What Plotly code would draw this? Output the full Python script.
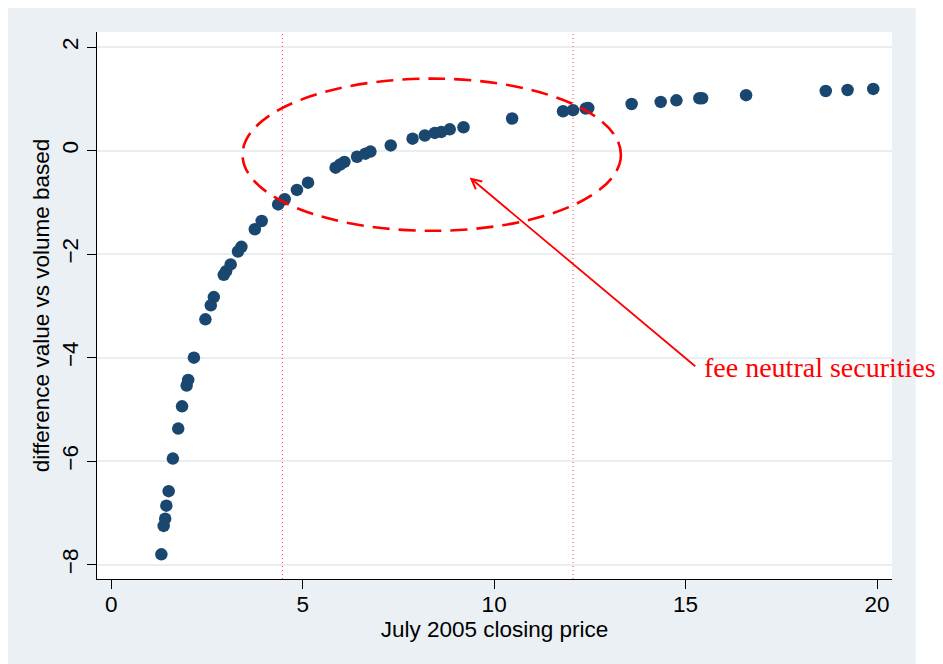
import plotly.graph_objects as go

# Data
price = [1.31, 1.37, 1.41, 1.44, 1.50, 1.61, 1.75, 1.85, 1.97, 2.01, 2.16,
         2.46, 2.60, 2.68, 2.94, 3.00, 3.12, 3.31, 3.40, 3.75, 3.93,
         4.36, 4.53, 4.85, 5.14, 5.86, 5.98, 6.09, 6.42, 6.64, 6.77,
         7.30, 7.87, 8.19, 8.45, 8.62, 8.84, 9.20, 10.47, 11.80, 12.06,
         12.39, 12.46, 13.59, 14.35, 14.76, 15.36, 15.43, 16.58, 18.66,
         19.23, 19.90]
diff = [-7.80, -7.25, -7.11, -6.86, -6.58, -5.95, -5.37, -4.94, -4.54, -4.43, -4.00,
        -3.26, -2.99, -2.83, -2.40, -2.33, -2.20, -1.95, -1.86, -1.52, -1.36,
        -1.04, -0.94, -0.76, -0.62, -0.33, -0.27, -0.22, -0.12, -0.06, -0.02,
        0.10, 0.23, 0.29, 0.34, 0.36, 0.41, 0.45, 0.62, 0.76, 0.78,
        0.81, 0.82, 0.90, 0.94, 0.97, 1.01, 1.01, 1.07, 1.15,
        1.17, 1.19]

cutoffs = [4.47, 12.06]
ellipse_x = [3.43, 13.31]
ellipse_y = [-1.55, 1.39]
arrow_head = (9.36, -0.52)
arrow_tail = (15.29, -4.19)
note_text = "fee neutral securities"

x_ticks = [0, 5, 10, 15, 20]
y_ticks = [-8, -6, -4, -2, 0, 2]
y_ticktext = ["\u22128", "\u22126", "\u22124", "\u22122", "0", "2"]

NAVY = "#1a476f"
BG = "#eaf0f3"
GRID = "#e8eef1"
FS = 22.5

fig = go.Figure()
fig.add_trace(go.Scatter(
    x=price, y=diff, mode="markers",
    marker=dict(size=12.5, color=NAVY, line=dict(width=0)),
    showlegend=False, hoverinfo="skip"))

# white strip on the right of the gray outer panel
fig.add_shape(type="rect", xref="paper", yref="paper",
              x0=1.0298, x1=1.3, y0=-0.4, y1=1.2,
              fillcolor="white", line=dict(width=0), layer="below")

for c in cutoffs:
    fig.add_shape(type="line", xref="x", yref="paper", x0=c, x1=c, y0=0, y1=1,
                  line=dict(color="rgba(255,0,0,0.75)", width=1, dash="1px,3px"))

fig.add_shape(type="circle", xref="x", yref="y",
              x0=ellipse_x[0], x1=ellipse_x[1], y0=ellipse_y[0], y1=ellipse_y[1],
              line=dict(color="#ff0000", width=2.6, dash="17px,9px"))

fig.add_annotation(x=arrow_head[0], y=arrow_head[1], ax=arrow_tail[0], ay=arrow_tail[1],
                   xref="x", yref="y", axref="x", ayref="y", text="",
                   showarrow=True, arrowhead=5, arrowsize=1.1, arrowwidth=1.8,
                   arrowcolor="#ff0000", standoff=0, startstandoff=0)
fig.add_annotation(x=arrow_tail[0], y=arrow_tail[1], xref="x", yref="y",
                   text=note_text, showarrow=False, xanchor="left", yanchor="middle",
                   xshift=5, yshift=0,
                   font=dict(family="Liberation Serif, serif", size=28, color="#ff0000"))

fig.update_xaxes(range=[-0.371, 20.39], tickvals=x_ticks, showgrid=False, zeroline=False,
                 showline=True, linecolor="black", linewidth=1.3,
                 ticks="outside", ticklen=9, tickwidth=1.3, tickcolor="black",
                 ticklabelstandoff=-4,
                 tickfont=dict(size=FS, color="black"),
                 title=dict(text="July 2005 closing price", font=dict(size=FS, color="black"),
                            standoff=4))
fig.update_yaxes(range=[-8.276, 2.29], tickvals=y_ticks, ticktext=y_ticktext,
                 showgrid=True, gridcolor=GRID, gridwidth=1.5, zeroline=False,
                 showline=True, linecolor="black", linewidth=1.3,
                 ticks="outside", ticklen=9, tickwidth=1.3, tickcolor="black",
                 tickangle=-90, tickfont=dict(size=FS, color="black"),
                 title=dict(text="difference value vs volume based", font=dict(size=FS, color="black"),
                            standoff=1))

fig.update_layout(width=935, height=656, margin=dict(l=89, r=51, t=24, b=85),
                  paper_bgcolor=BG, plot_bgcolor="white",
                  font=dict(family="Liberation Sans, Arial, sans-serif", color="black"))

fig.write_html("out.html")
